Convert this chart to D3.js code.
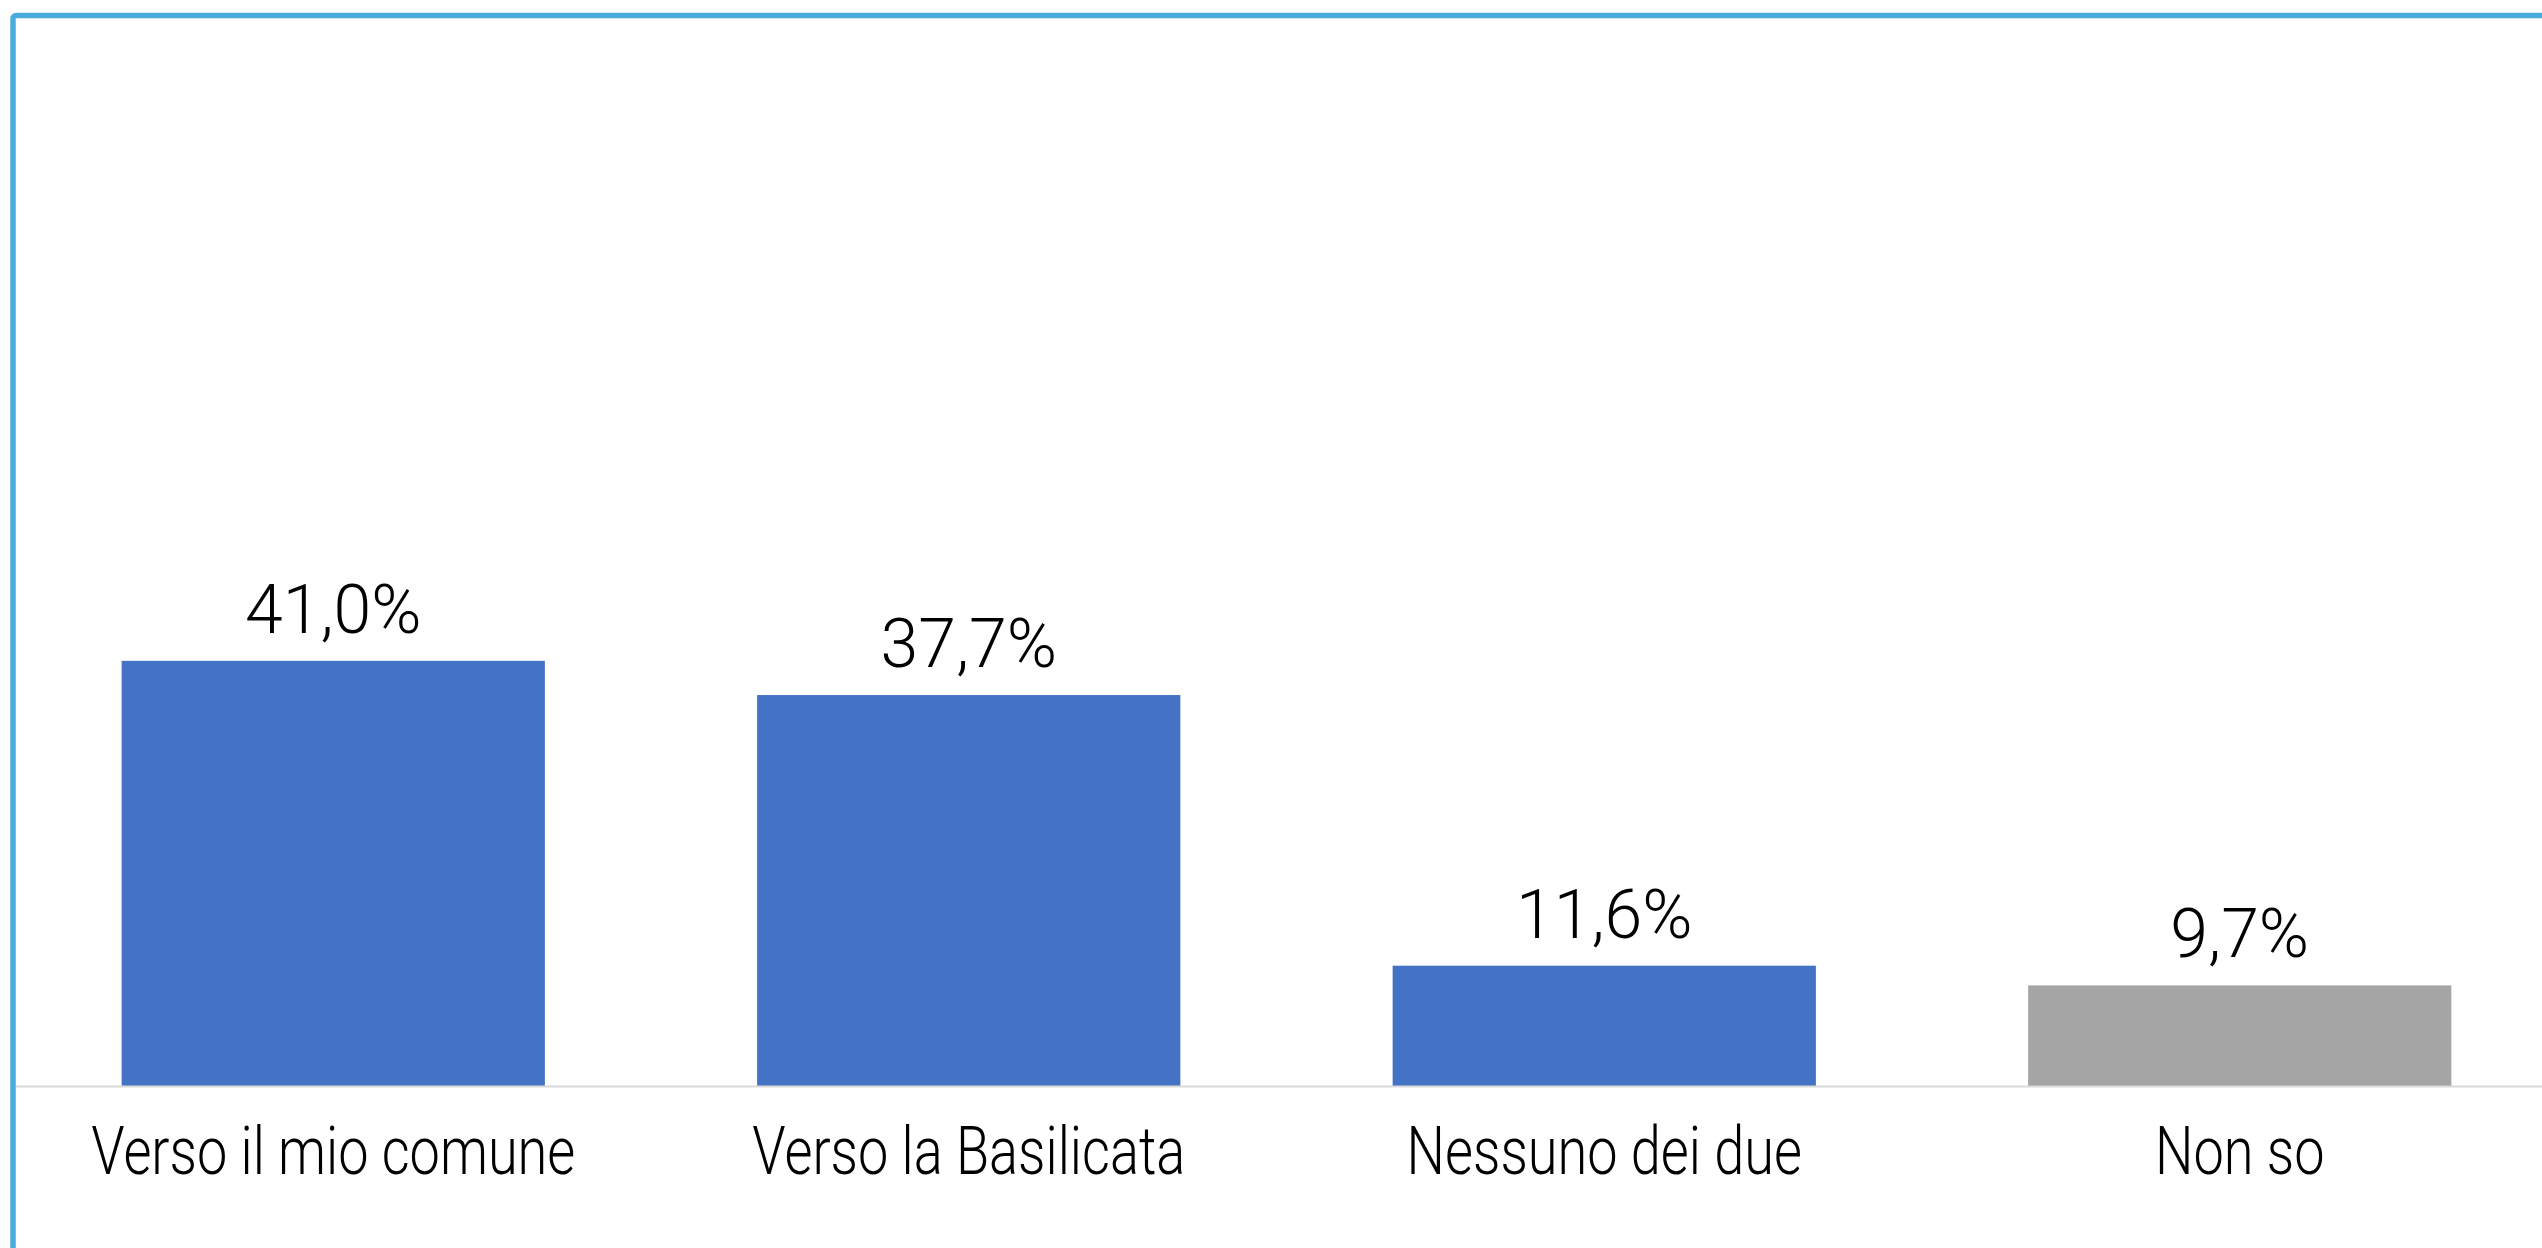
<!DOCTYPE html>
<html>
<head>
<meta charset="utf-8">
<script src="https://cdn.jsdelivr.net/npm/d3@7"></script>
<style>
  body { margin: 0; background: #fff; }
  svg { display: block; }
  .axis text { font-family: Roboto, sans-serif; font-weight: 300; fill: #000; }
  .label { font-family: Roboto, sans-serif; font-weight: 300; fill: #000; }
</style>
</head>
<body>
<div id="chart"></div>
<script>
// risposte (%)
var categories = ['Verso il mio comune', 'Verso la Basilicata', 'Nessuno dei due', 'Non so']
var values = [41.0, 37.7, 11.6, 9.7]
var neutralCategories = ['Non so']

var width = 2542
var height = 1248
var baseline = 1086
var blue = '#4472c4'
var grey = '#a5a5a5'
var frameColor = '#4aacdc'

var fmt = function (v) { return d3.format('.1f')(v).replace('.', ',') + '%' }

var data = categories.map(function (c, i) {
  return { cat: c, value: values[i] }
})

var svg = d3.select('#chart').append('svg')
  .attr('width', width)
  .attr('height', height)

var x = d3.scaleBand()
  .domain(categories)
  .range([15.5, 2557.5])
  .paddingInner(0.334)
  .paddingOuter(0.167)

var y = d3.scaleLinear()
  .domain([0, 100])
  .range([baseline, 49])

// outer frame (only top and left edges are in view)
svg.append('rect')
  .attr('x', 13)
  .attr('y', 15.5)
  .attr('width', width + 40)
  .attr('height', height + 40)
  .attr('rx', 3)
  .attr('fill', 'none')
  .attr('stroke', frameColor)
  .attr('stroke-width', 5.5)

svg.append('g')
  .attr('class', 'bars')
  .selectAll('rect')
  .data(data)
  .enter().append('rect')
  .attr('x', function (d) { return x(d.cat) })
  .attr('y', function (d) { return y(d.value) })
  .attr('width', x.bandwidth())
  .attr('height', function (d) { return y(0) - y(d.value) })
  .attr('fill', function (d) { return neutralCategories.indexOf(d.cat) >= 0 ? grey : blue })

svg.append('g')
  .selectAll('text')
  .data(data)
  .enter().append('text')
  .attr('class', 'label')
  .attr('x', function (d) { return x(d.cat) + x.bandwidth() / 2 })
  .attr('y', function (d) { return y(d.value) - 28 })
  .attr('text-anchor', 'middle')
  .style('font-size', '68px')
  .text(function (d) { return fmt(d.value) })

var xAxis = d3.axisBottom(x)
  .tickSize(0)
  .tickSizeOuter(0)
  .tickPadding(41)

var axisG = svg.append('g')
  .attr('class', 'axis')
  .attr('transform', 'translate(0,' + baseline + ')')
  .call(xAxis)

axisG.select('.domain')
  .attr('stroke', '#d9d9d9')
  .attr('stroke-width', 2)

axisG.selectAll('.tick text')
  .style('font-size', '66px')
  .attr('transform', 'scale(0.82,1)')
</script>
</body>
</html>
